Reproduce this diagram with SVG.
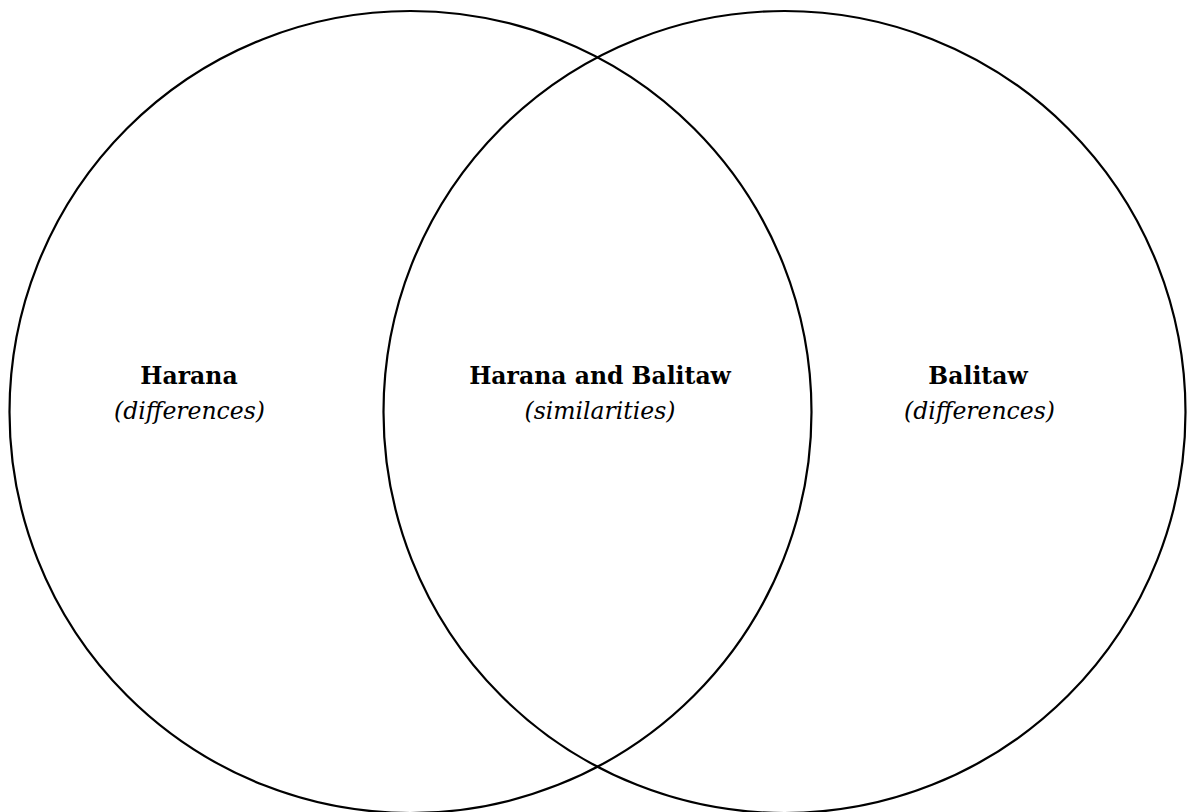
<svg xmlns="http://www.w3.org/2000/svg" width="1188" height="812" viewBox="0 0 1188 812">
<style>
.c{fill:none;stroke:#000;stroke-width:2.2}
.t{font-family:"DejaVu Serif","Liberation Serif",serif;font-size:23.5px;fill:#000;text-anchor:middle}
.b{font-weight:bold}
.i{font-style:italic}
</style>
<rect width="1188" height="812" fill="#fff"/>
<g id="connectors"></g>
<g id="harana">
<circle class="c" cx="410.5" cy="412" r="401"/>
<text class="t b" x="189" y="384">Harana</text>
<text class="t i" x="189.5" y="419">(differences)</text>
</g>
<g id="balitaw">
<circle class="c" cx="784.5" cy="412" r="401"/>
<text class="t b" x="978" y="384">Balitaw</text>
<text class="t i" x="979.5" y="419">(differences)</text>
</g>
<g id="both">
<text class="t b" x="600" y="384">Harana and Balitaw</text>
<text class="t i" x="600" y="419">(similarities)</text>
</g>
</svg>
